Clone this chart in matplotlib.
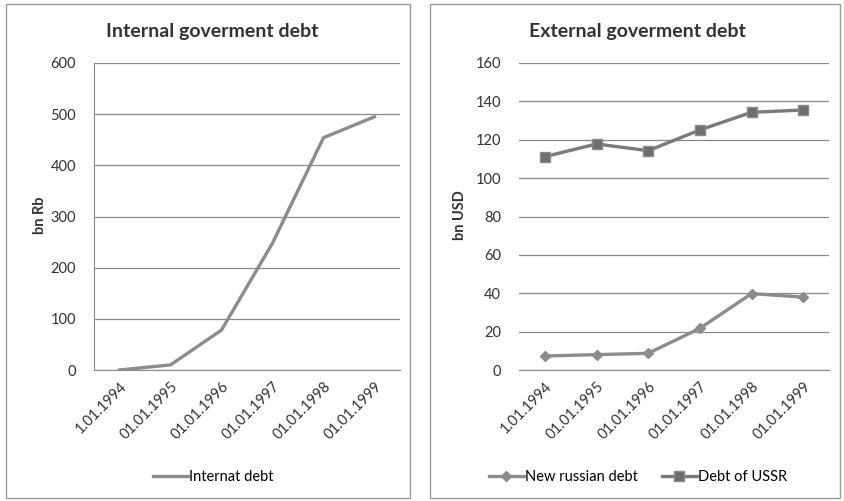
import matplotlib.pyplot as plt
from matplotlib.patches import Rectangle
from matplotlib.lines import Line2D

dates = ["1.01.1994", "01.01.1995", "01.01.1996", "01.01.1997", "01.01.1998", "01.01.1999"]
internal_debt = [0, 10, 78, 248, 454, 495]
new_russian_debt = [7.3, 8.0, 8.7, 21.7, 39.8, 38.0]
ussr_debt = [111.2, 117.8, 114.3, 125.1, 134.3, 135.5]

W, H = 844, 501
LINE = "#8c8c8c"
GRID = "#8a8a8a"
TXT = "#333333"
plt.rcParams["font.family"] = ["Lato", "DejaVu Sans"]

fig = plt.figure(figsize=(W / 100, H / 100), dpi=100)


def px_axes(x0, y0, x1, y1):
    return fig.add_axes([x0 / W, 1 - y1 / H, (x1 - x0) / W, (y1 - y0) / H])


# panel frames
for x0, x1 in [(6, 410), (430, 840)]:
    fig.patches.append(Rectangle((x0 / W, 1 - 498 / H), (x1 - x0) / W, 494 / H,
                                 transform=fig.transFigure, fill=False,
                                 edgecolor="#9a9a9a", linewidth=1.0))


def style(ax, ymax, step, left_spine):
    ax.set_xlim(-0.5, len(dates) - 0.5)
    ax.set_ylim(0, ymax)
    ax.set_yticks(range(0, ymax + 1, step))
    ax.set_xticks(range(len(dates)))
    ax.set_xticklabels(dates, rotation=45, ha="right", rotation_mode="anchor")
    ax.tick_params(length=0, labelsize=10.5, colors=TXT)
    ax.tick_params(axis="y", pad=13)
    ax.tick_params(axis="x", pad=7)
    ax.grid(axis="y", color=GRID, linewidth=0.9)
    ax.set_axisbelow(True)
    for s in ["top", "right"]:
        ax.spines[s].set_visible(False)
    ax.spines["left"].set_visible(left_spine)
    ax.spines["left"].set_color(GRID)
    ax.spines["bottom"].set_color(GRID)


# internal debt
ax1 = px_axes(94, 63, 400, 370)
ax1.plot(range(len(dates)), internal_debt, color=LINE, linewidth=2.4)
style(ax1, 600, 100, True)
fig.text(212 / W, 1 - 31 / H, "Internal goverment debt", ha="center", va="center",
         fontsize=14, fontweight="bold", color=TXT)
fig.text(40 / W, 1 - 215 / H, "bn Rb", ha="center", va="center", rotation=90,
         fontsize=10.5, fontweight="bold", color=TXT)
ax1.legend(handles=[Line2D([], [], color=LINE, linewidth=2.4)], labels=["Internat debt"],
           loc="center", bbox_to_anchor=(213 / W, 1 - 477 / H), bbox_transform=fig.transFigure,
           frameon=False, fontsize=10.5, handlelength=2.4, handletextpad=0.1)

# external debt
ax2 = px_axes(519, 63, 829, 370)
ax2.plot(range(len(dates)), new_russian_debt, color=LINE, linewidth=2.4,
         marker="D", markersize=5.5, markerfacecolor=LINE, markeredgecolor=LINE)
ax2.plot(range(len(dates)), ussr_debt, color="#7a7a7a", linewidth=2.4,
         marker="s", markersize=7, markerfacecolor="#6e6e6e", markeredgecolor="#8a8a8a")
style(ax2, 160, 20, False)
fig.text(637 / W, 1 - 31 / H, "External goverment debt", ha="center", va="center",
         fontsize=14, fontweight="bold", color=TXT)
fig.text(460 / W, 1 - 215 / H, "bn USD", ha="center", va="center", rotation=90,
         fontsize=10.5, fontweight="bold", color=TXT)
ax2.legend(handles=ax2.lines, labels=["New russian debt", "Debt of USSR"],
           loc="center", bbox_to_anchor=(638 / W, 1 - 477 / H), bbox_transform=fig.transFigure,
           frameon=False, fontsize=10.5, ncol=2, handlelength=2.4, handletextpad=0.1,
           columnspacing=1.6)

fig.savefig("out.png", dpi=100)
